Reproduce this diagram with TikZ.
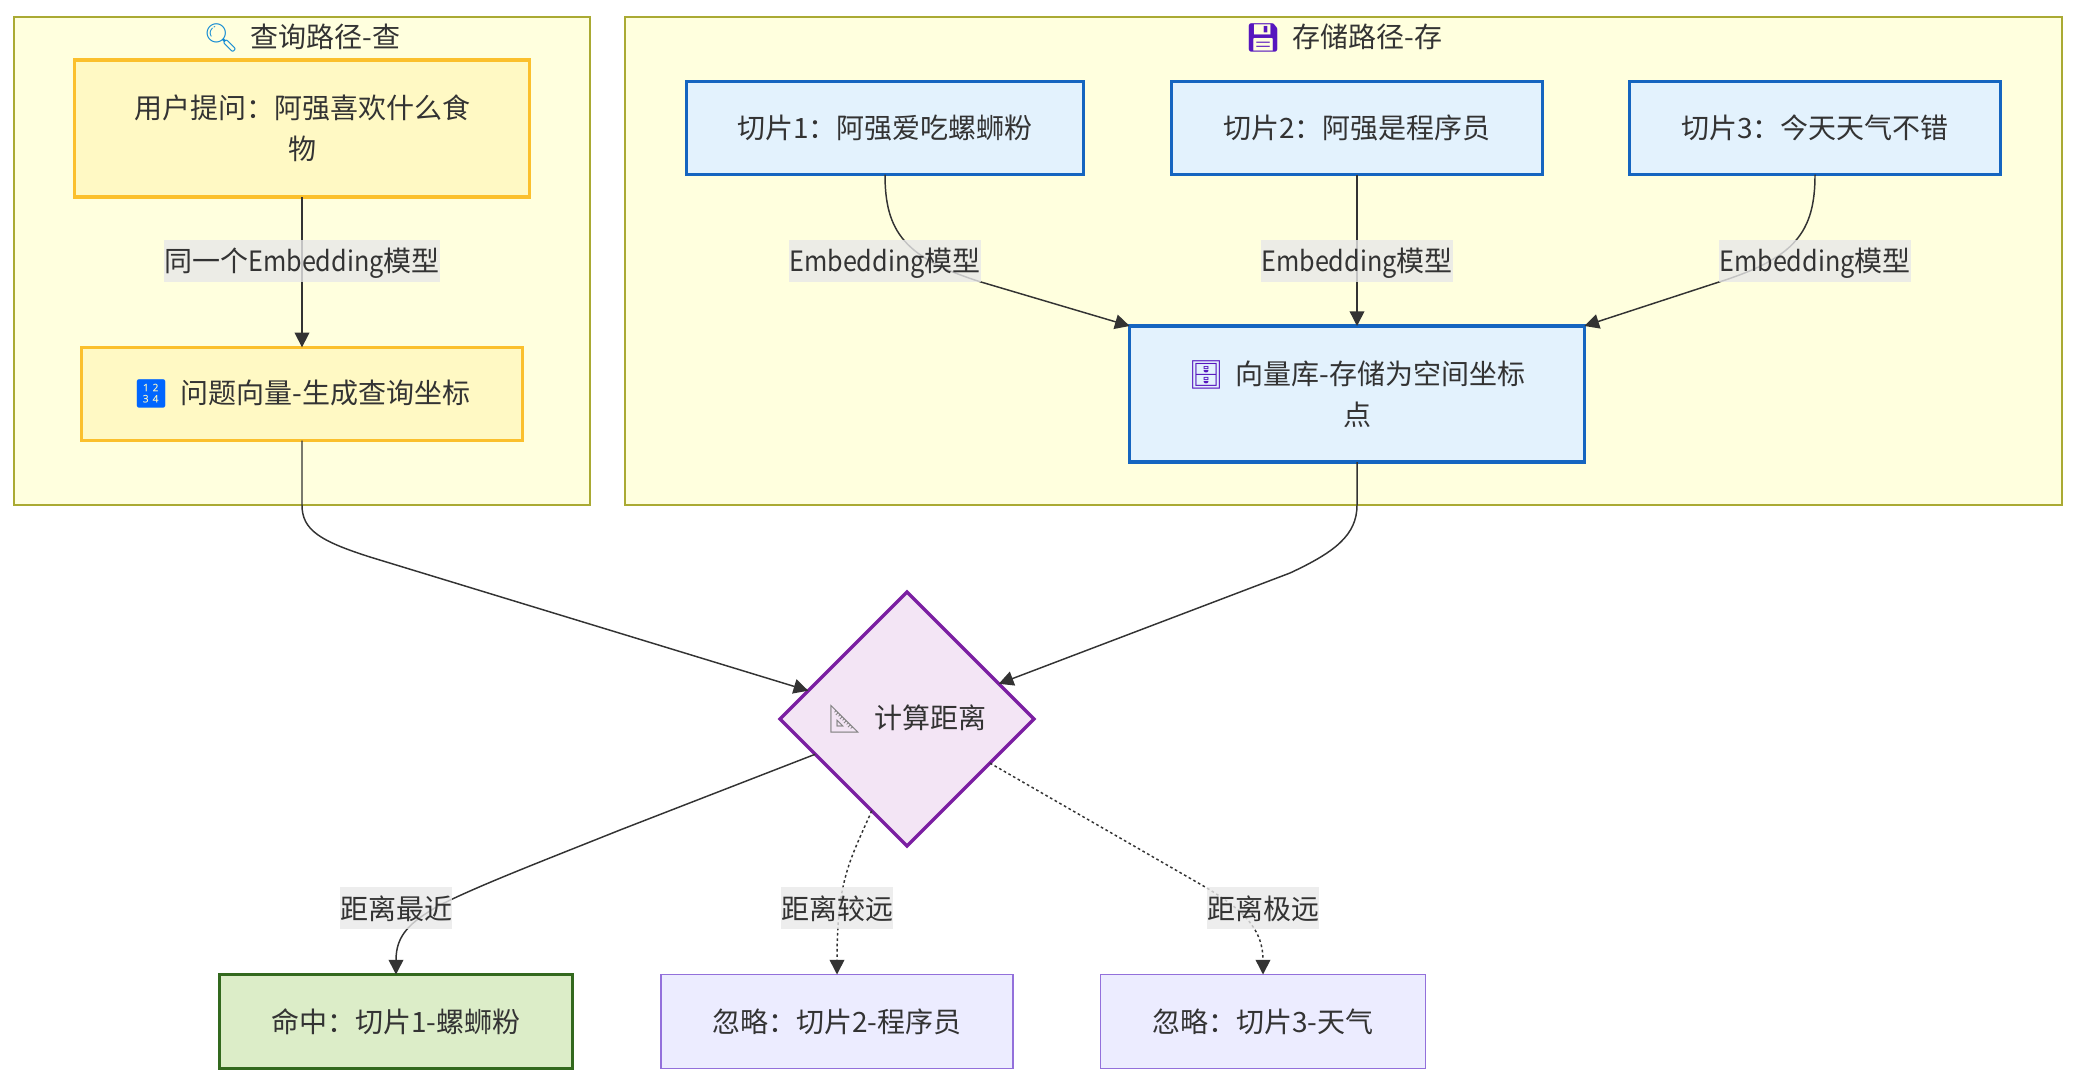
\documentclass[tikz,border=0pt]{standalone}
\usepackage{fontspec}
\usepackage{xcolor}
\usetikzlibrary{arrows.meta,shapes.geometric}
\setmainfont{Noto Sans CJK SC}
\newfontfamily\emojifont{Noto Emoji}
\newfontfamily\narrowfont[FakeStretch=0.9]{Noto Sans CJK SC}
\newcommand{\emoji}[2]{{\color{#1}\emojifont #2}\hspace{9pt}}
\newcommand{\narrowword}[1]{{\narrowfont #1}}

\definecolor{textgray}{HTML}{333333}
\definecolor{clusterfill}{HTML}{FFFFDE}
\definecolor{clusterline}{HTML}{AAAA33}
\definecolor{askfill}{HTML}{FFF9C4}
\definecolor{askline}{HTML}{FBC02D}
\definecolor{storefill}{HTML}{E3F2FD}
\definecolor{storeline}{HTML}{1565C0}
\definecolor{calcfill}{HTML}{F3E5F5}
\definecolor{calcline}{HTML}{7B1FA2}
\definecolor{hitfill}{HTML}{DCEDC8}
\definecolor{hitline}{HTML}{33691E}
\definecolor{missfill}{HTML}{ECECFF}
\definecolor{missline}{HTML}{9370DB}
\definecolor{labelfill}{HTML}{E8E8E8}

\tikzset{
  textbase/.style={text=textgray,align=center,font=\fontsize{21}{31}\selectfont},
  clusterbox/.style={draw=clusterline,fill=clusterfill,line width=1pt},
  clustertitle/.style={textbase,inner sep=0pt},
  askbox/.style={textbase,draw=askline,fill=askfill,line width=2.6pt,inner sep=0pt,outer sep=0pt},
  storebox/.style={textbase,draw=storeline,fill=storefill,line width=2.6pt,inner sep=0pt,outer sep=0pt},
  hitbox/.style={textbase,draw=hitline,fill=hitfill,line width=2.6pt,inner sep=0pt,outer sep=0pt},
  missbox/.style={textbase,draw=missline,fill=missfill,line width=1pt,inner sep=0pt,outer sep=0pt},
  calcbox/.style={textbase,diamond,aspect=1,draw=calcline,fill=calcfill,line width=2.6pt,inner sep=0pt,outer sep=0pt,minimum width=190.5pt,minimum height=190.5pt},
  edgeline/.style={draw=textgray,line width=1.1pt,-{Triangle[length=11pt,width=11pt]}},
  edgedots/.style={edgeline,dash pattern=on 2pt off 2pt},
  edgelabel/.style={textbase,fill=labelfill,fill opacity=0.8,text opacity=1,inner xsep=0pt,inner ysep=0pt,text height=20.5pt,text depth=4pt,minimum height=31.5pt}
}

\begin{document}
\begin{tikzpicture}[x=0.75pt,y=0.75pt,yscale=-1,xscale=1]
\useasboundingbox (0,0) rectangle (2076,1086);

%Shape: clusters
\draw [clusterbox] (14,17) -- (590,17) -- (590,505) -- (14,505) -- cycle ;
\draw [clusterbox] (625,17) -- (2062,17) -- (2062,505) -- (625,505) -- cycle ;

% Text Node
\node [clustertitle] (asktitle) at (302,38) {\emoji{cyan!70!blue}{🔍}查询路径-查};
\node [clustertitle] (storetitle) at (1344,38) {\emoji{calcline!70!blue}{💾}存储路径-存};

% Text Node
\node [askbox,minimum width=341pt,minimum height=103pt] (question) at (302,128.5) {用户提问：阿强喜欢什么食\\物};
\node [askbox,minimum width=331pt,minimum height=70pt] (queryvec) at (302,394) {\emoji{blue!60!cyan}{🔢}问题向量-生成查询坐标};
\node [storebox,minimum width=298pt,minimum height=70pt] (sliceone) at (885,128) {切片1：阿强爱吃螺蛳粉};
\node [storebox,minimum width=278pt,minimum height=70pt] (slicetwo) at (1357,128) {切片2：阿强是程序员};
\node [storebox,minimum width=278pt,minimum height=70pt] (slicethree) at (1815,128) {切片3：今天天气不错};
\node [storebox,minimum width=341pt,minimum height=102pt] (vectordb) at (1357,394) {\emoji{calcline!70!blue}{🗄}向量库-存储为空间坐标\\点};
\node [calcbox] (distance) at (907,719) {\emoji{gray}{📐}计算距离};
\node [hitbox,minimum width=265pt,minimum height=70.5pt] (hitone) at (396,1021.5) {命中：切片1-螺蛳粉};
\node [missbox,minimum width=264pt,minimum height=70.5pt] (misstwo) at (837,1021.5) {忽略：切片2-程序员};
\node [missbox,minimum width=244pt,minimum height=70.5pt] (missthree) at (1263,1021.5) {忽略：切片3-天气};

%Straight Lines and curves
\draw [edgeline] (question.south) -- (queryvec.north) ;
\draw [edgeline] (slicetwo.south) -- (vectordb.north) ;
\draw [edgeline] (sliceone.south) .. controls (885,232) and (905,258) .. (981,282) -- (vectordb.north west) ;
\draw [edgeline] (slicethree.south) .. controls (1815,232) and (1795,258) .. (1719,282) -- (vectordb.north east) ;
\draw [edgeline] (queryvec.south) -- (302,505) .. controls (302,530) and (320,541) .. (370,557) -- (distance.164) ;
\draw [edgeline] (vectordb.south) -- (1357,505) .. controls (1357,535) and (1335,552) .. (1290,573) -- (distance.21) ;
\draw [edgeline] (distance.201) -- (620,830) .. controls (540,862) and (480,885) .. (440,905) .. controls (410,922) and (396,935) .. (hitone.north) ;
\draw [edgedots] (distance.249) .. controls (850,860) and (837,880) .. (misstwo.north) ;
\draw [edgedots] (distance.-28) -- (1200,884) .. controls (1245,910) and (1263,930) .. (missthree.north) ;

% Text Node
\node [edgelabel] (samemodel) at (302,260.5) {同一个\narrowword{Embedding}模型};
\node [edgelabel] (modelone) at (885,260.5) {\narrowword{Embedding}模型};
\node [edgelabel] (modeltwo) at (1357,260.5) {\narrowword{Embedding}模型};
\node [edgelabel] (modelthree) at (1815,260.5) {\narrowword{Embedding}模型};
\node [edgelabel] (nearest) at (396,908) {距离最近};
\node [edgelabel] (farther) at (837,908) {距离较远};
\node [edgelabel] (farthest) at (1263,908) {距离极远};
\end{tikzpicture}
\end{document}
